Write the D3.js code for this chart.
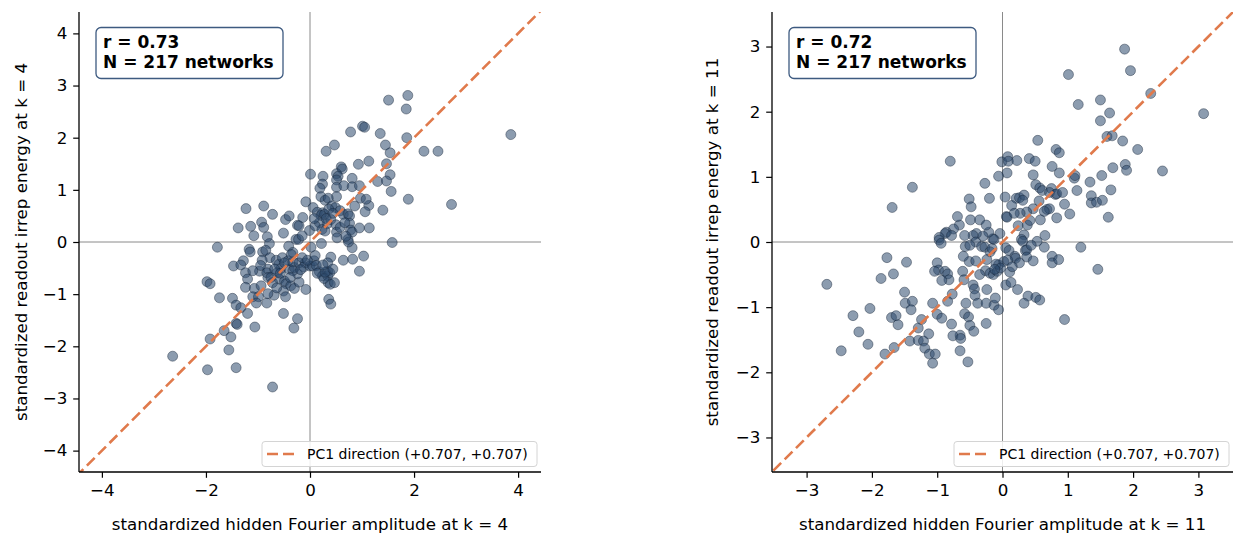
<!DOCTYPE html>
<html>
<head>
<meta charset="utf-8">
<script src="https://cdn.jsdelivr.net/npm/d3@7"></script>
<style>
	body { margin: 0; background: #fff; }
	svg { display: block; font-family: 'DejaVu Sans', sans-serif; }
</style>
</head>
<body>
<svg id="chart" width="1235" height="538"></svg>
<script>
// hidden Fourier amplitude (x) vs readout irrep energy (y), standardized, k = 4
const k4Points = [
	[1.88, 2.81], [1.51, 2.72], [1.85, 2.55], [1.01, 2.22], [1.05, 2.20], [0.78, 2.11], [1.35, 2.08], [1.86, 2.00], [3.86, 2.06], [0.47, 1.86],
	[0.31, 1.74], [1.45, 1.86], [1.54, 1.71], [2.19, 1.74], [2.46, 1.74], [1.13, 1.55], [0.93, 1.49], [1.47, 1.50], [0.60, 1.44], [0.62, 1.40],
	[0.51, 1.31], [0.54, 1.26], [0.01, 1.30], [0.25, 1.26], [0.81, 1.22], [1.54, 1.29], [1.30, 1.16], [1.47, 1.17], [0.51, 1.19], [0.24, 1.11],
	[0.19, 1.03], [0.51, 1.05], [0.65, 1.08], [0.81, 1.06], [0.95, 1.08], [1.56, 0.97], [1.89, 0.82], [2.72, 0.72], [0.21, 0.87], [0.29, 0.80],
	[0.51, 0.87], [0.86, 0.69], [1.13, 0.70], [1.40, 0.61], [1.06, 0.58], [-0.08, 0.77], [0.35, 0.84], [0.97, 0.84], [1.08, 0.82],
	[-1.23, 0.64], [-0.89, 0.69], [-0.72, 0.53], [-0.93, 0.38], [-0.89, 0.28], [-1.14, 0.30], [-1.38, 0.27], [-1.08, 0.12], [-0.82, 0.10], [-0.51, 0.17],
	[-0.47, 0.43], [-0.40, 0.50], [-0.24, 0.32], [-0.21, 0.31], [-0.14, 0.47], [-0.01, 0.22], [0.06, 0.66], [0.14, 0.57], [0.24, 0.56], [0.21, 0.51],
	[0.28, 0.53], [0.33, 0.35], [0.18, 0.37], [0.10, 0.31], [0.08, 0.45], [0.23, 0.24], [0.29, 0.21], [0.40, 0.43], [0.42, 0.69], [0.49, 0.66],
	[0.58, 0.60], [0.64, 0.53], [0.73, 0.54], [0.76, 0.50], [0.76, 0.36], [0.78, 0.23], [0.81, 0.19], [0.95, 0.27], [1.14, 0.27], [0.50, 0.33],
	[0.51, 0.19], [0.52, 0.08], [0.58, 0.28], [0.67, 0.37], [0.73, 0.05], [0.36, 0.63], [0.44, 0.55], [0.31, 0.45],
	[-1.78, -0.10], [-1.17, -0.14], [-1.15, -0.19], [-0.78, -0.03], [-0.91, -0.19], [-0.85, -0.16], [-0.77, -0.30], [-0.92, -0.35], [-1.28, -0.36], [-1.47, -0.46],
	[-1.33, -0.44], [-1.24, -0.59], [-1.98, -0.76], [-1.92, -0.80], [-1.74, -1.07], [-1.49, -1.08], [-1.42, -1.21], [-1.33, -1.26], [-1.20, -1.37], [-1.42, -1.56],
	[-1.40, -1.58], [-1.65, -1.70], [-1.52, -1.82], [-1.92, -1.86], [-1.06, -1.63], [-1.56, -2.07], [-2.64, -2.19], [-1.97, -2.45], [-1.42, -2.41], [-0.72, -2.78],
	[-1.20, -0.71], [-1.24, -0.87], [-1.07, -0.89], [-1.10, -1.05], [-0.99, -1.05], [-1.03, -1.17], [-0.83, -1.17], [-0.94, -0.84], [-0.97, -0.56], [-0.81, -0.52],
	[-0.83, -0.59], [-0.81, -0.68], [-0.75, -0.68], [-0.65, -0.35], [-0.60, -0.43], [-0.53, -0.30], [-0.41, -0.08], [-0.33, -0.20], [-0.27, 0.05], [-0.22, 0.05],
	[-0.56, -0.51], [-0.63, -0.59], [-0.59, -0.71], [-0.49, -0.75], [-0.46, -0.80], [-0.51, -0.94], [-0.47, -1.05], [-0.69, -1.02], [-0.81, -0.99], [-0.37, -0.84],
	[-0.30, -0.89], [-0.21, -0.77], [-0.08, -0.91], [-0.24, -0.61], [-0.40, -0.52], [-0.30, -0.49], [-0.42, -0.36], [-0.49, -0.40], [-0.33, -0.38], [-0.21, -0.40],
	[-0.12, -0.48], [-0.09, -0.40], [0.00, -0.46], [0.05, -0.46], [0.08, -0.36], [-0.51, -1.37], [-0.24, -1.47], [-0.31, -1.65],
	[0.18, -0.57], [0.24, -0.65], [0.34, -0.65], [0.34, -0.56], [0.38, -0.59], [0.35, -0.78], [0.39, -0.81], [0.47, -0.78], [0.36, -1.10], [0.40, -1.19],
	[0.22, -0.03], [0.40, -0.29], [0.34, -0.40], [0.64, -0.35], [0.82, -0.33], [0.95, -0.56], [1.03, -0.27], [0.81, -0.11], [0.74, 0.00], [0.69, 0.11],
	[1.58, -0.01],
	[-0.33, -0.55], [-0.15, -0.30], [-0.05, -0.35], [0.12, -0.45], [0.14, -0.60], [0.27, -0.70], [0.29, -0.58], [-0.68, -0.52], [-0.72, -0.78], [-0.57, -0.60],
	[-0.38, -0.68], [-0.18, -0.53], [0.10, -0.26], [-0.36, -0.24], [-0.95, -0.45], [-1.10, -0.55], [-0.64, -0.88], [0.25, -0.44], [0.44, -0.52], [-0.15, 0.12],
	[0.02, -0.10]
]

// same, k = 11
const k11Points = [
	[1.87, 2.96], [1.96, 2.63], [1.01, 2.57], [2.27, 2.28], [1.16, 2.11], [1.50, 2.18], [1.64, 1.98], [1.50, 1.86], [3.08, 1.97], [1.60, 1.62],
	[1.68, 1.63], [1.84, 1.55], [2.07, 1.42], [0.54, 1.56], [0.82, 1.42], [0.87, 1.37], [0.76, 1.16], [1.88, 1.19], [1.90, 1.10], [2.45, 1.09],
	[1.69, 1.14], [1.52, 1.02], [1.10, 0.98], [1.11, 1.02], [1.34, 0.92], [1.14, 0.79], [1.66, 0.80], [1.36, 0.71], [1.36, 0.60], [1.44, 0.61],
	[1.53, 0.64], [1.62, 0.38], [1.03, 0.43], [1.20, -0.08], [1.46, -0.42], [0.95, -1.19], [-0.80, 1.24], [-1.38, 0.84], [-1.69, 0.53], [-2.69, -0.65],
	[-0.01, 1.23], [0.08, 1.31], [0.09, 1.24], [0.22, 1.25], [0.41, 1.28], [0.50, 1.24], [0.07, 1.06], [-0.06, 1.01], [0.47, 1.03], [0.87, 1.06],
	[-0.27, 0.90], [-0.51, 0.66], [-0.48, 0.54], [-0.20, 0.67], [0.04, 0.69], [0.21, 0.67], [0.26, 0.68], [0.33, 0.72], [0.31, 0.64], [0.51, 0.88],
	[0.57, 0.83], [0.61, 0.79], [0.75, 0.82], [0.72, 0.76], [0.81, 0.73], [0.83, 0.74], [0.92, 0.76], [0.83, 0.37], [0.68, 0.50], [0.72, 0.51],
	[0.64, 0.47], [0.56, 0.63], [0.47, 0.51], [0.37, 0.46], [0.27, 0.44], [0.58, 0.34], [0.06, 0.39], [0.07, 0.38], [0.24, 0.25], [0.38, 0.26],
	[0.33, 0.11], [0.29, 0.04], [0.65, 0.10], [0.53, 0.01], [-0.04, 0.13], [-0.15, 0.05], [-0.21, 0.15], [-0.30, 0.09], [-0.40, 0.13], [-0.45, 0.10],
	[-0.58, 0.10], [-0.66, 0.26], [-0.75, 0.20], [-0.69, 0.39], [-0.49, 0.34], [-0.35, 0.34], [-0.25, 0.26], [-0.86, 0.15], [-0.88, 0.13], [-0.97, 0.07],
	[-0.97, 0.03],
	[-0.94, -0.02], [-0.57, -0.07], [-0.41, 0.00], [-0.32, -0.07], [-0.27, -0.08], [-0.19, -0.15], [-0.16, -0.10], [0.05, -0.09], [0.10, -0.13], [0.19, -0.22],
	[0.20, -0.25], [0.31, 0.01], [0.35, -0.13], [0.37, -0.12], [0.37, -0.23], [0.26, -0.32], [0.47, -0.29], [0.64, -0.08], [0.76, -0.22], [0.76, -0.32],
	[0.86, -0.27], [0.11, -0.46], [0.05, -0.66], [0.13, -0.62], [0.23, -0.73], [0.39, -0.83], [0.51, -0.85], [0.57, -0.89], [0.33, -0.94],
	[-1.77, -0.24], [-1.47, -0.31], [-1.86, -0.56], [-1.67, -0.49], [-1.00, -0.32], [-0.98, -0.43], [-0.88, -0.45], [-0.84, -0.49], [-0.82, -0.58], [-0.93, -0.59],
	[-0.61, -0.45], [-0.59, -0.58], [-0.51, -0.30], [-0.41, -0.29], [-0.24, -0.27], [-0.26, -0.44], [-0.19, -0.48], [-0.14, -0.50], [-0.08, -0.45], [-0.06, -0.35],
	[-0.10, -0.34], [-0.24, -0.73], [-0.45, -0.66], [-0.43, -0.72], [-0.42, -0.82], [-0.56, -0.94], [-0.38, -0.94], [-0.25, -0.94], [-0.13, -0.97], [-0.06, -1.04],
	[-0.11, -0.86], [-0.58, -1.10], [-0.52, -1.15], [-0.50, -1.28], [-0.44, -1.37], [-0.25, -1.25], [-0.78, -1.26], [-0.65, -1.43], [-0.76, -1.44], [-0.64, -1.48],
	[-0.65, -1.67], [-0.53, -1.84], [-0.77, -0.80], [-0.84, -0.91], [-1.07, -0.94], [-1.00, -1.11], [-0.93, -1.17], [-1.50, -0.77], [-1.49, -0.94], [-1.38, -0.91],
	[-1.40, -1.04], [-1.29, -1.32], [-1.24, -1.19], [-1.13, -1.41], [-1.42, -1.52], [-1.29, -1.51], [-1.21, -1.52], [-1.19, -1.63], [-1.12, -1.72], [-1.03, -1.72],
	[-1.07, -1.86], [-1.66, -1.62], [-1.80, -1.72], [-2.03, -1.02], [-2.29, -1.13], [-2.20, -1.38], [-2.06, -1.57], [-2.47, -1.67], [-1.70, -1.16], [-1.63, -1.13],
	[-1.60, -1.27],
	[-0.50, -0.05], [0.02, -0.30], [-0.03, -0.40], [0.08, -0.28], [-0.12, -0.42], [0.15, -0.38], [-0.35, -0.50], [0.42, 0.33], [0.14, 0.56], [0.18, 0.44],
	[-0.60, -0.22], [-0.78, 0.10], [0.44, -0.05], [0.95, 0.58], [-1.04, -0.45], [-0.13, 0.04]
]

const k4XTicks = [-4, -2, 0, 2, 4]
const k4YTicks = [-4, -3, -2, -1, 0, 1, 2, 3, 4]
const k11Ticks = [-3, -2, -1, 0, 1, 2, 3]
const rValues = [0.73, 0.72]
const networkCount = 217
const pc1Loadings = [0.707, 0.707]

const svg = d3.select('#chart')
const plotTop = 12
const plotBottom = 472
const fontSize = 16.7
const orange = '#e07a4c'
const tickFmt = d3.format('d')

const panels = [
	{ id: 'k4', k: 4, r: rValues[0], points: k4Points, xTicks: k4XTicks, yTicks: k4YTicks, xDomain: [-4.44, 4.44], yDomain: [-4.41, 4.41], left: 79, right: 541, yLabelX: 21 },
	{ id: 'k11', k: 11, r: rValues[1], points: k11Points, xTicks: k11Ticks, yTicks: k11Ticks, xDomain: [-3.53, 3.53], yDomain: [-3.53, 3.53], left: 772, right: 1233, yLabelX: 712 },
]

panels.forEach(p => {
	const x = d3.scaleLinear().domain(p.xDomain).range([p.left, p.right])
	const y = d3.scaleLinear().domain(p.yDomain).range([plotBottom, plotTop])
	const g = svg.append('g')

	g.append('clipPath')
		.attr('id', 'clip-' + p.id)
		.append('rect')
		.attr('x', p.left)
		.attr('y', plotTop)
		.attr('width', p.right - p.left)
		.attr('height', plotBottom - plotTop)

	const plot = g.append('g').attr('clip-path', `url(#clip-${p.id})`)

	// zero reference lines
	plot.append('line')
		.attr('x1', x(0)).attr('x2', x(0))
		.attr('y1', plotTop).attr('y2', plotBottom)
		.attr('stroke', '#8a8a8a').attr('stroke-width', 1)
	plot.append('line')
		.attr('x1', p.left).attr('x2', p.right)
		.attr('y1', y(0)).attr('y2', y(0))
		.attr('stroke', '#8a8a8a').attr('stroke-width', 1)

	plot.selectAll('circle')
		.data(p.points)
		.join('circle')
		.attr('cx', d => x(d[0]))
		.attr('cy', d => y(d[1]))
		.attr('r', 5)
		.attr('fill', '#2e4a6e')
		.attr('fill-opacity', 0.55)
		.attr('stroke', '#142236')
		.attr('stroke-opacity', 0.6)
		.attr('stroke-width', 0.7)

	// PC1 direction through the origin
	const slope = pc1Loadings[1] / pc1Loadings[0]
	const ext = Math.max(...p.xDomain.map(Math.abs)) + 0.5
	plot.append('line')
		.attr('x1', x(-ext)).attr('y1', y(-ext * slope))
		.attr('x2', x(ext)).attr('y2', y(ext * slope))
		.attr('stroke', orange)
		.attr('stroke-width', 2.6)
		.attr('stroke-dasharray', '11,5')

	const xAxis = g.append('g')
		.attr('transform', `translate(0,${plotBottom})`)
		.call(d3.axisBottom(x).tickValues(p.xTicks).tickFormat(tickFmt).tickSize(5.8).tickPadding(6).tickSizeOuter(0))
	const yAxis = g.append('g')
		.attr('transform', `translate(${p.left},0)`)
		.call(d3.axisLeft(y).tickValues(p.yTicks).tickFormat(tickFmt).tickSize(5.8).tickPadding(5.8).tickSizeOuter(0))
	;[xAxis, yAxis].forEach(a => {
		a.select('.domain').attr('stroke', '#000').attr('stroke-width', 1.3)
		a.selectAll('.tick line').attr('stroke', '#000').attr('stroke-width', 1.2)
		a.selectAll('.tick text').attr('font-family', 'DejaVu Sans').attr('font-size', fontSize).attr('fill', '#000')
	})
	// spines span the whole axes box
	yAxis.select('.domain').attr('d', `M0,${plotTop}V${plotBottom}`)
	xAxis.select('.domain').attr('d', `M${p.left},0H${p.right}`)

	g.append('text')
		.attr('x', (p.left + p.right) / 2)
		.attr('y', 530)
		.attr('text-anchor', 'middle')
		.attr('font-size', fontSize)
		.text(`standardized hidden Fourier amplitude at k = ${p.k}`)

	g.append('text')
		.attr('transform', `translate(${p.yLabelX},${(plotTop + plotBottom) / 2}) rotate(-90)`)
		.attr('text-anchor', 'middle')
		.attr('dy', '0.35em')
		.attr('font-size', fontSize)
		.text(`standardized readout irrep energy at k = ${p.k}`)

	// stats box
	const bx = p.left + 17
	g.append('rect')
		.attr('x', bx).attr('y', 27.5)
		.attr('width', 187).attr('height', 51)
		.attr('rx', 5)
		.attr('fill', '#fff')
		.attr('stroke', '#3d5a80')
		.attr('stroke-width', 1.3)
	const stats = g.append('text')
		.attr('font-size', 17)
		.attr('font-weight', 'bold')
	stats.append('tspan').attr('x', bx + 7).attr('y', 47.5).text(`r = ${p.r.toFixed(2)}`)
	stats.append('tspan').attr('x', bx + 7).attr('y', 68).text(`N = ${networkCount} networks`)

	// legend
	const lx = p.right - 279
	g.append('rect')
		.attr('x', lx).attr('y', 441.5)
		.attr('width', 275).attr('height', 25)
		.attr('rx', 3)
		.attr('fill', '#fff').attr('fill-opacity', 0.85)
		.attr('stroke', '#d4d4d4').attr('stroke-width', 1)
	g.append('line')
		.attr('x1', lx + 5).attr('x2', lx + 33)
		.attr('y1', 454).attr('y2', 454)
		.attr('stroke', orange)
		.attr('stroke-width', 2.6)
		.attr('stroke-dasharray', '11,5')
	g.append('text')
		.attr('x', lx + 45)
		.attr('y', 459)
		.attr('font-size', 14)
		.text(`PC1 direction (+${pc1Loadings[0].toFixed(3)}, +${pc1Loadings[1].toFixed(3)})`)
})
</script>
</body>
</html>
